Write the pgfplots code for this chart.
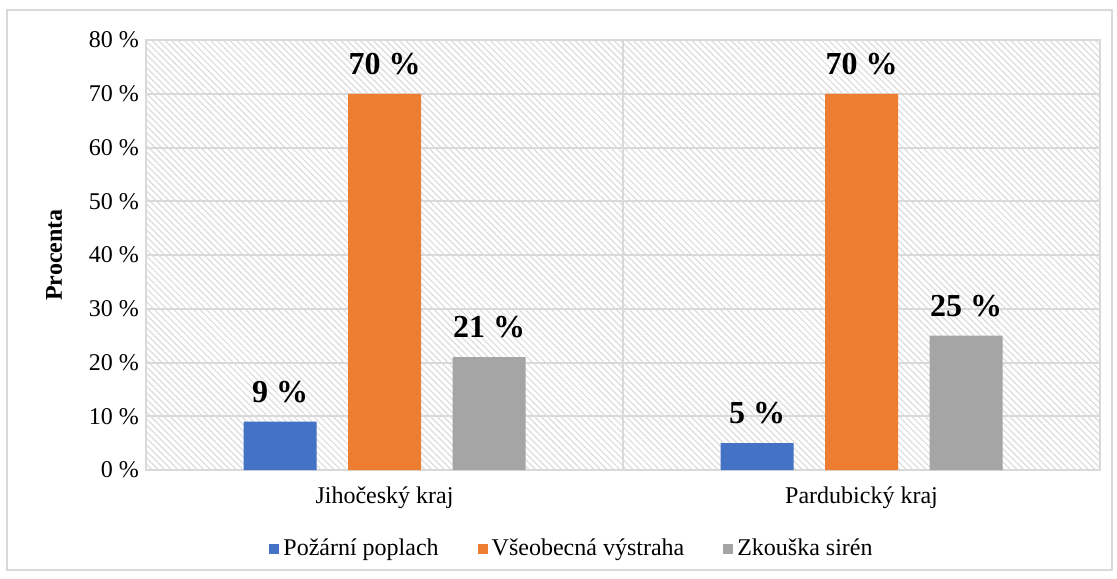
\documentclass[border=0pt]{standalone}
\usepackage{fontspec}
\setmainfont{Liberation Serif}
\usepackage{pgfplots}
\pgfplotsset{compat=1.18}
\usetikzlibrary{patterns.meta}
\definecolor{cblue}{HTML}{4472C4}
\definecolor{corange}{HTML}{ED7D31}
\definecolor{cgray}{HTML}{A5A5A5}
\definecolor{gridc}{HTML}{D9D9D9}
\definecolor{hatchc}{HTML}{DCDCDC}
\begin{document}
\begin{tikzpicture}
\path[use as bounding box] (0,0) rectangle (558.5pt,289pt);
\draw[gridc, line width=0.75pt] (3.5pt,4pt) rectangle (556pt,284pt);
\begin{axis}[
  at={(73pt,54pt)}, anchor=south west,
  scale only axis, width=477pt, height=215pt,
  ybar, bar width=36.5pt,
  xmin=-0.5, xmax=1.5, ymin=0, ymax=80,
  xtick={0,1}, xticklabels={Jihočeský kraj, Pardubický kraj},
  ytick={0,10,...,80},
  yticklabel={\pgfmathprintnumber{\tick}~\%},
  /pgf/number format/assume math mode=true,
  tick label style={font=\fontsize{12}{14}\selectfont},
  xticklabel style={yshift=-5pt},
  major tick length=0pt,
  ymajorgrids, grid style={gridc, line width=1pt},
  extra x ticks={0.5}, extra x tick labels={},
  extra x tick style={xmajorgrids=true, ymajorgrids=false, grid style={gridc, line width=1pt}},
  axis line style={gridc, line width=1pt},
  axis background/.style={pattern={Lines[angle=-45,distance=2.3pt,line width=0.6pt]}, pattern color=hatchc},
  ylabel={Procenta},
  ylabel style={at={(axis description cs:-0.0964,0.5)}, anchor=center, font=\bfseries\fontsize{12}{14}\selectfont},
  nodes near coords={\pgfmathprintnumber{\pgfplotspointmeta}~\%},
  nodes near coords style={font=\bfseries\fontsize{16}{18}\selectfont, anchor=south, yshift=6pt, text=black},
  legend style={at={(0.4476,-0.1837)}, anchor=center, legend columns=3, draw=none, fill=none,
    font=\fontsize{12}{14}\selectfont,
    /tikz/every even column/.append style={column sep=17.5pt}},
  legend image code/.code={\fill[#1] (0pt,-2.5pt) rectangle (5pt,2.5pt);},
]
\addplot[bar shift=-52.25pt, fill=cblue, draw=none] coordinates {(0,9) (1,5)};
\addlegendentry{Požární poplach}
\addplot[bar shift=0pt, fill=corange, draw=none] coordinates {(0,70) (1,70)};
\addlegendentry{Všeobecná výstraha}
\addplot[bar shift=52.25pt, fill=cgray, draw=none] coordinates {(0,21) (1,25)};
\addlegendentry{Zkouška sirén}
\end{axis}
\end{tikzpicture}
\end{document}
